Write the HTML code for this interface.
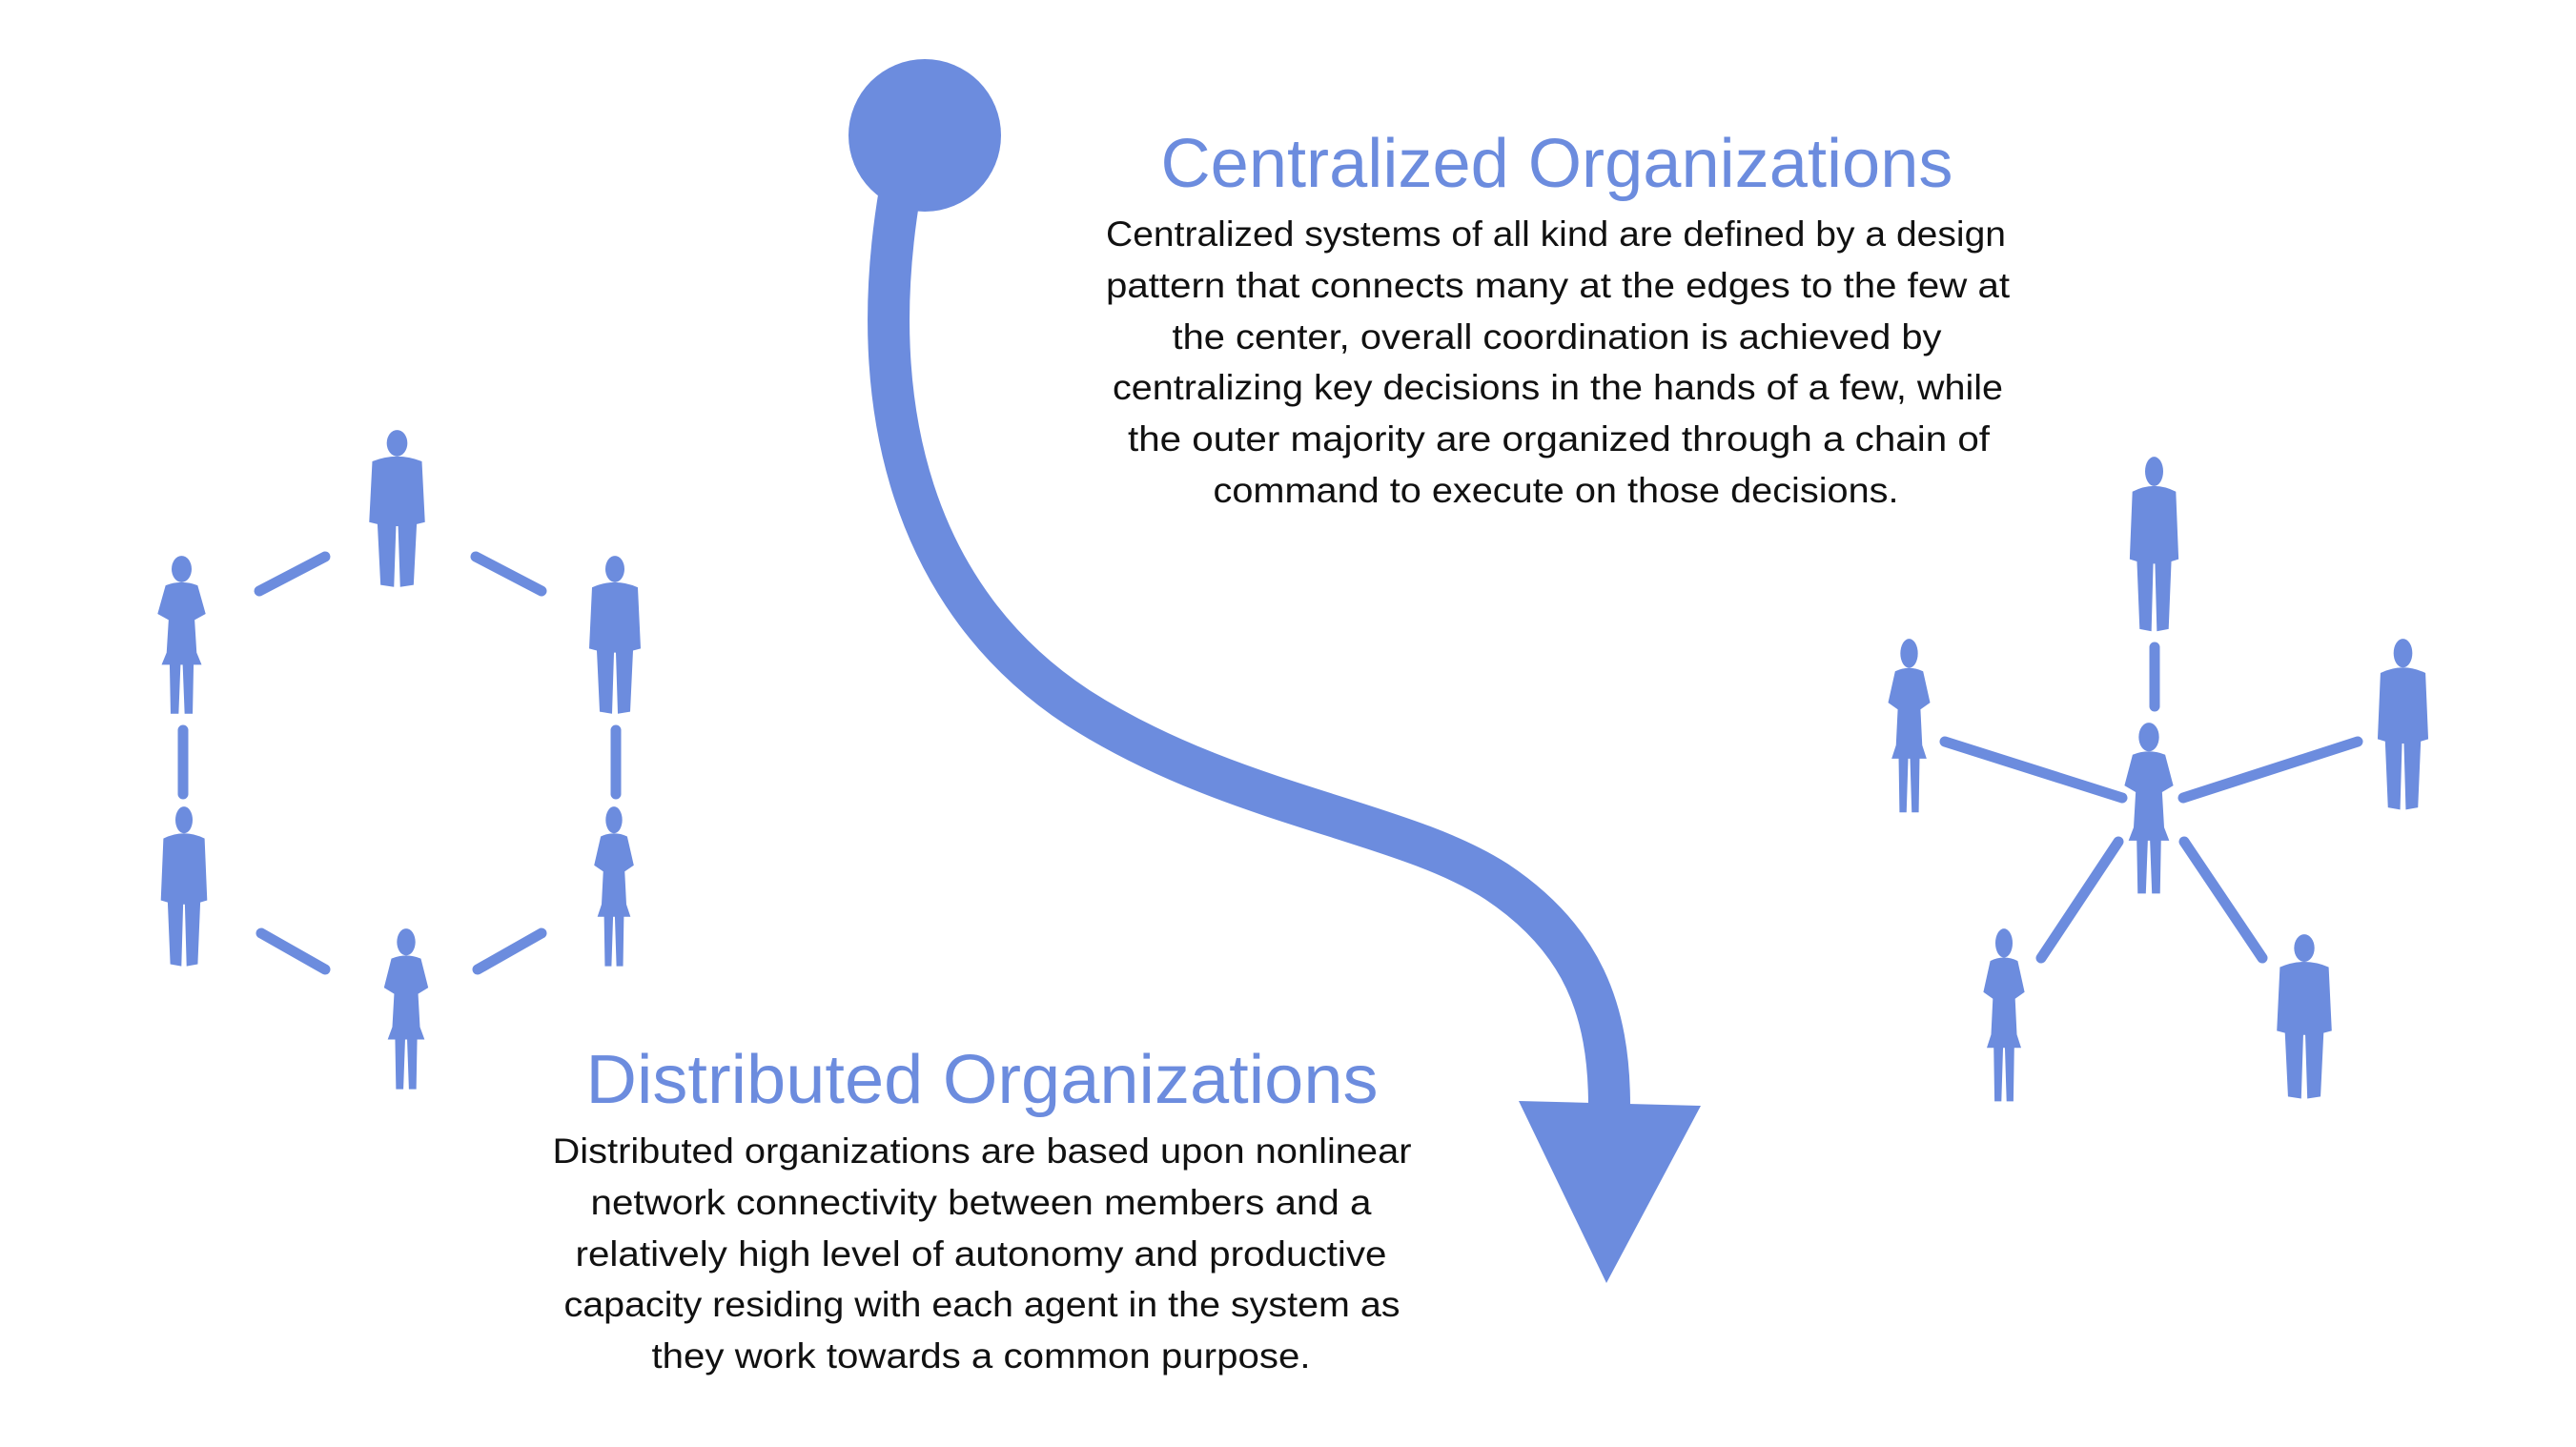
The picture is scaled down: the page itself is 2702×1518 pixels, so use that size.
<!DOCTYPE html>
<html><head><meta charset="utf-8"><style>
html,body{margin:0;padding:0;background:#fff;}
svg{display:block;}
</style></head><body>
<svg width="2702" height="1518" viewBox="0 0 2702 1518" xmlns="http://www.w3.org/2000/svg">
<defs>
<symbol id="man" viewBox="0 0 60 160" preserveAspectRatio="none">
<ellipse cx="30" cy="14" rx="10" ry="13" fill="#6C8CDE"/>
<path d="M6,32 Q30,22 54,32 L57,92 L49,94 L46,154 L33,156 L31,96 L29,96 L27,156 L14,154 L11,94 L3,92 Z" fill="#6C8CDE"/>
</symbol>
<symbol id="woman" viewBox="0 0 60 160" preserveAspectRatio="none">
<ellipse cx="30" cy="14" rx="10" ry="13" fill="#6C8CDE"/>
<path d="M14,30 Q30,24 46,30 L54,58 L43,64 L45,96 L50,108 L10,108 L15,96 L17,64 L6,58 Z" fill="#6C8CDE"/>
<path d="M18,106 L29,106 L27,156 L19,156 Z M31,106 L42,106 L41,156 L33,156 Z" fill="#6C8CDE"/>
</symbol>
</defs>
<g stroke="#6C8CDE" stroke-width="11" stroke-linecap="round" fill="none">
<line x1="272" y1="620" x2="341" y2="584"/>
<line x1="499" y1="584" x2="568" y2="620"/>
<line x1="192" y1="766" x2="192" y2="833"/>
<line x1="646" y1="766" x2="646" y2="833"/>
<line x1="274" y1="979" x2="341" y2="1017"/>
<line x1="501" y1="1017" x2="568" y2="979"/>
<line x1="2260" y1="679" x2="2260" y2="741"/>
<line x1="2040" y1="778" x2="2226" y2="837"/>
<line x1="2290" y1="837" x2="2473" y2="778"/>
<line x1="2141" y1="1005" x2="2222" y2="883"/>
<line x1="2291" y1="883" x2="2373" y2="1005"/>
</g>
<use href="#man" x="384" y="450" width="65" height="170"/>
<use href="#woman" x="159" y="582" width="63" height="171"/>
<use href="#man" x="615" y="582" width="60" height="171"/>
<use href="#man" x="166" y="845" width="54" height="173"/>
<use href="#woman" x="618" y="845" width="52" height="173"/>
<use href="#woman" x="397" y="973" width="58" height="174"/>
<use href="#man" x="2231" y="478" width="57" height="189"/>
<use href="#woman" x="1975" y="669" width="55" height="188"/>
<use href="#man" x="2491" y="669" width="59" height="185"/>
<use href="#woman" x="2222" y="757" width="64" height="185"/>
<use href="#woman" x="2075" y="973" width="54" height="187"/>
<use href="#man" x="2385" y="979" width="64" height="178"/>
<circle cx="970" cy="142" r="80" fill="#6C8CDE"/>
<path d="M944,200 C905,430 960,630 1130,742 C1290,845 1470,860 1570,925 C1660,985 1688,1060 1688,1160" stroke="#6C8CDE" stroke-width="44" fill="none"/>
<polygon points="1593,1155 1784,1160 1685,1346" fill="#6C8CDE"/>
<g font-family="'Liberation Sans', sans-serif" text-anchor="middle">
<text x="1633" y="196" font-size="72" fill="#6C8CDE" textLength="831" lengthAdjust="spacingAndGlyphs">Centralized Organizations</text>
<g font-size="37" fill="#111">
<text x="1632" y="258" textLength="944" lengthAdjust="spacingAndGlyphs">Centralized systems of all kind are defined by a design</text>
<text x="1634" y="312" textLength="948" lengthAdjust="spacingAndGlyphs">pattern that connects many at the edges to the few at</text>
<text x="1633" y="366" textLength="807" lengthAdjust="spacingAndGlyphs">the center, overall coordination is achieved by</text>
<text x="1634" y="419" textLength="934" lengthAdjust="spacingAndGlyphs">centralizing key decisions in the hands of a few, while</text>
<text x="1635" y="473" textLength="904" lengthAdjust="spacingAndGlyphs">the outer majority are organized through a chain of</text>
<text x="1632" y="527" textLength="719" lengthAdjust="spacingAndGlyphs">command to execute on those decisions.</text>
</g>
<text x="1030" y="1157" font-size="72" fill="#6C8CDE" textLength="831" lengthAdjust="spacingAndGlyphs">Distributed Organizations</text>
<g font-size="37" fill="#111">
<text x="1030" y="1220" textLength="901" lengthAdjust="spacingAndGlyphs">Distributed organizations are based upon nonlinear</text>
<text x="1029" y="1274" textLength="819" lengthAdjust="spacingAndGlyphs">network connectivity between members and a</text>
<text x="1029" y="1328" textLength="851" lengthAdjust="spacingAndGlyphs">relatively high level of autonomy and productive</text>
<text x="1030" y="1381" textLength="877" lengthAdjust="spacingAndGlyphs">capacity residing with each agent in the system as</text>
<text x="1029" y="1435" textLength="691" lengthAdjust="spacingAndGlyphs">they work towards a common purpose.</text>
</g>
</g>
</svg>
</body></html>
